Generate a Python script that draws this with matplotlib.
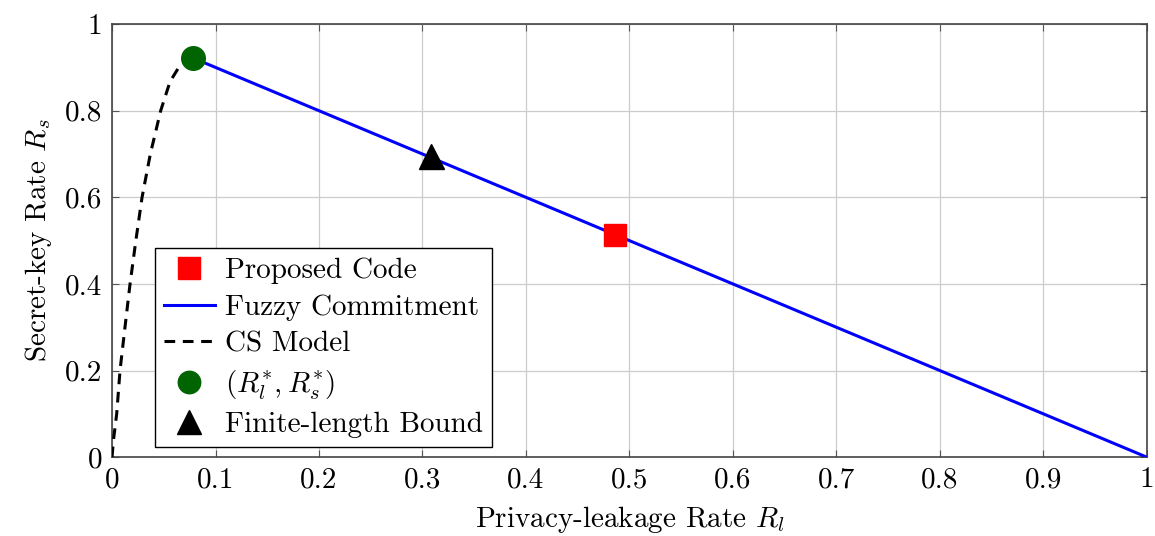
import matplotlib
matplotlib.use("Agg")
import matplotlib.pyplot as plt

plt.rcParams['font.family'] = 'serif'
plt.rcParams['font.serif'] = ['cmr10']
plt.rcParams['mathtext.fontset'] = 'cm'
plt.rcParams['axes.formatter.use_mathtext'] = True

# CS model curve
cs_rl = [0.0, 0.0013, 0.0045, 0.0077, 0.0125, 0.0174, 0.023, 0.029, 0.037, 0.047, 0.056, 0.066, 0.078]
cs_rs = [0.0, 0.038, 0.10, 0.20, 0.30, 0.40, 0.50, 0.60, 0.70, 0.80, 0.867, 0.906, 0.922]

# fuzzy commitment line
fc_rl = [0.078, 1.0]
fc_rs = [0.922, 0.0]

opt_point = (0.078, 0.922)
proposed = (0.486, 0.514)
finite_bound = (0.308, 0.695)

xticks = [0, 0.1, 0.2, 0.3, 0.4, 0.5, 0.6, 0.7, 0.8, 0.9, 1]
xlabels = ['0', '0.1', '0.2', '0.3', '0.4', '0.5', '0.6', '0.7', '0.8', '0.9', '1']
yticks = [0, 0.2, 0.4, 0.6, 0.8, 1]
ylabels = ['0', '0.2', '0.4', '0.6', '0.8', '1']

fig = plt.figure(figsize=(11.55, 5.36), dpi=100)
ax = fig.add_axes([0.097, 0.147, 0.896, 0.808])

fc, = ax.plot(fc_rl, fc_rs, color='#0000ff', lw=2.2, label='Fuzzy Commitment', zorder=3)
cs, = ax.plot(cs_rl, cs_rs, color='black', lw=2.2, ls=(0, (3.5, 2.5)), label='CS Model', zorder=3)
pc, = ax.plot([proposed[0]], [proposed[1]], 's', color='#ff0000', ms=16, ls='none',
              label='Proposed Code', zorder=4)
op, = ax.plot([opt_point[0]], [opt_point[1]], 'o', color='#006400', ms=17, ls='none',
              label=r'$(R_l^{\ast}, R_s^{\ast})$', zorder=4)
fb, = ax.plot([finite_bound[0]], [finite_bound[1]], '^', color='black', ms=18, ls='none',
              label='Finite-length Bound', zorder=4)

ax.set_xlim(0, 1)
ax.set_ylim(0, 1)
ax.set_xticks(xticks)
ax.set_xticklabels(xlabels)
ax.set_yticks(yticks)
ax.set_yticklabels(ylabels)
ax.tick_params(direction='in', length=5, labelsize=21, top=True, right=True, color='#555555', pad=7)
ax.grid(True, color='#cccccc', lw=0.9)
ax.set_axisbelow(True)
for s in ax.spines.values():
    s.set_color('#444444')
    s.set_linewidth(1.2)

ax.set_xlabel(r'Privacy-leakage Rate $R_l$', fontsize=21, labelpad=8)
ax.set_ylabel(r'Secret-key Rate $R_s$', fontsize=21, labelpad=8)

leg = ax.legend(handles=[pc, fc, cs, op, fb], loc='lower left', bbox_to_anchor=(0.0415, 0.023),
                fontsize=21, fancybox=False, framealpha=1, edgecolor='black',
                handlelength=1.75, labelspacing=0.36, borderpad=0.3, handletextpad=0.35,
                markerscale=0.95, borderaxespad=0)
leg.get_frame().set_linewidth(1.0)

fig.savefig('out.png', dpi=100)
